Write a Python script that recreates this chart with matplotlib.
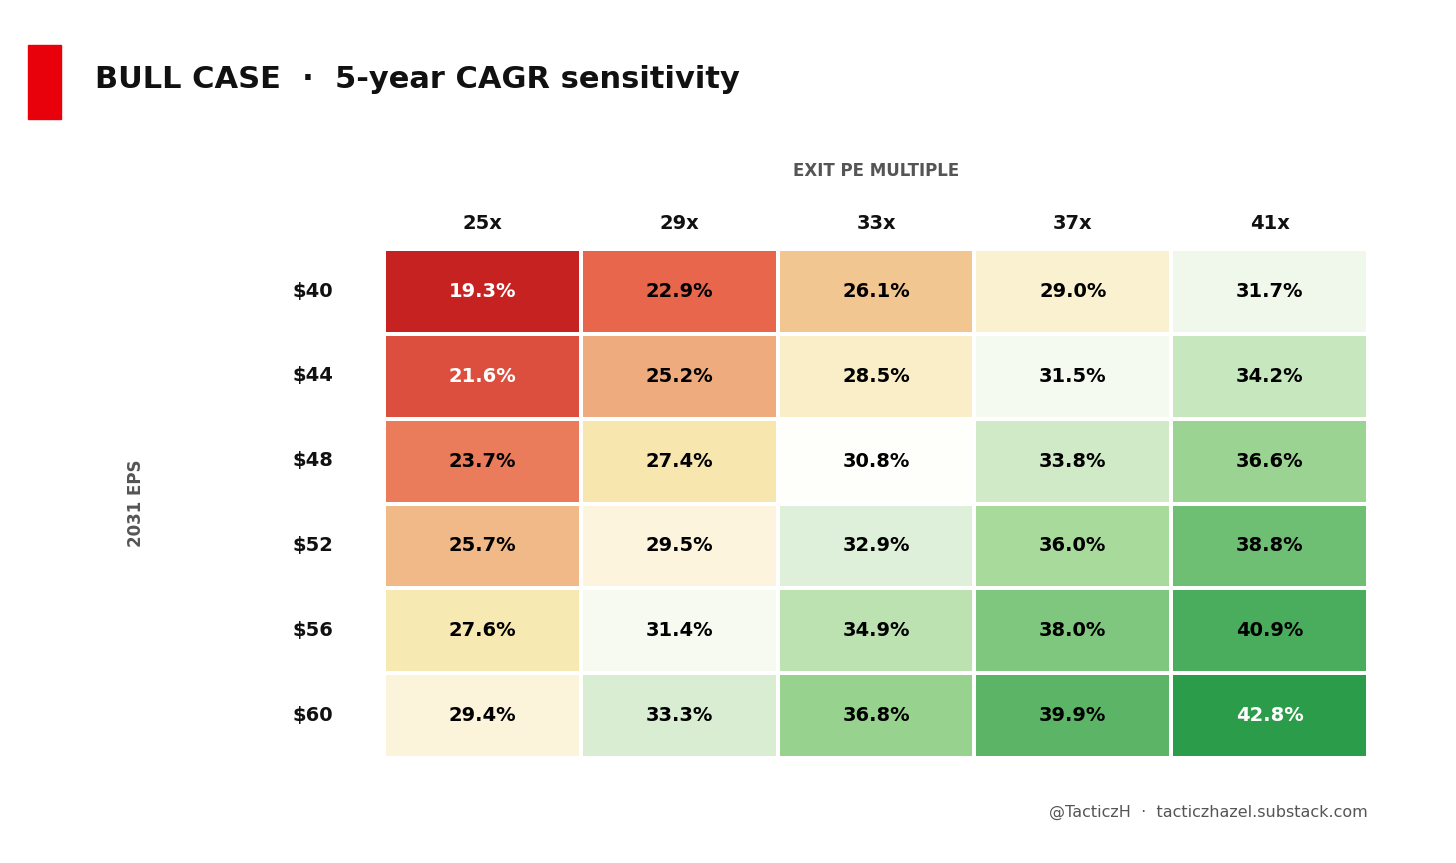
import numpy as np
import matplotlib
matplotlib.use("Agg")
import matplotlib.pyplot as plt
from matplotlib.colors import LinearSegmentedColormap, Normalize
from matplotlib.patches import Rectangle

pe_labels = ["25x", "29x", "33x", "37x", "41x"]
eps_labels = ["$40", "$44", "$48", "$52", "$56", "$60"]
cagr = np.array([
    [19.3, 22.9, 26.1, 29.0, 31.7],
    [21.6, 25.2, 28.5, 31.5, 34.2],
    [23.7, 27.4, 30.8, 33.8, 36.6],
    [25.7, 29.5, 32.9, 36.0, 38.8],
    [27.6, 31.4, 34.9, 38.0, 40.9],
    [29.4, 33.3, 36.8, 39.9, 42.8],
])

# custom red -> cream -> green scale, stops
stops = [(19.3, "#c62222"), (22.9, "#e8664c"), (26.1, "#f1c690"),
         (27.5, "#f7e8b0"), (29.2, "#fbf2d6"), (30.8, "#fefefa"),
         (32.9, "#dff0da"), (36.0, "#a8da9b"), (38.8, "#6fbe73"),
         (42.8, "#2b9c4a")]
lo, hi = stops[0][0], stops[-1][0]
cmap = LinearSegmentedColormap.from_list(
    "bull", [((v - lo) / (hi - lo), c) for v, c in stops])

fig = plt.figure(figsize=(14.56, 8.63), dpi=100)
ax = fig.add_axes([384/1456, 1-758/863, 984/1456, 509/863])
ax.pcolormesh(cagr, cmap=cmap, norm=Normalize(lo, hi),
              edgecolors="white", linewidth=1.5)
ax.set_xlim(0, 5)
ax.set_ylim(6, 0)
for s in ax.spines.values():
    s.set_visible(False)
ax.set_xticks([])
ax.set_yticks([])

for i in range(cagr.shape[0]):
    for j in range(cagr.shape[1]):
        v = cagr[i, j]
        col = "white" if (v < 22 or v > 42) else "black"
        ax.text(j + 0.5, i + 0.5, f"{v:.1f}%", ha="center", va="center",
                fontsize=14, fontweight="bold", color=col)

for j, lab in enumerate(pe_labels):
    ax.text(j + 0.5, -0.3, lab, ha="center", va="center",
            fontsize=14, fontweight="bold", color="#111111")
for i, lab in enumerate(eps_labels):
    fig.text(313/1456, 1 - (291 + i*84.8)/863, lab, ha="center", va="center",
             fontsize=14, fontweight="bold", color="#111111")

fig.text(876/1456, 1-171/863, "EXIT PE MULTIPLE", ha="center", va="center",
         fontsize=12, fontweight="bold", color="#555555")
fig.text(136/1456, 1-503/863, "2031 EPS", ha="center", va="center",
         rotation=90, fontsize=12, fontweight="bold", color="#555555")

fig.patches.append(Rectangle((28/1456, 1-119/863), 33/1456, 74/863,
                             transform=fig.transFigure, color="#e8000b"))
fig.text(95/1456, 1-80/863, "BULL CASE  ·  5-year CAGR sensitivity",
         ha="left", va="center", fontsize=22, fontweight="bold", color="#111111")
fig.text(1368/1456, 1-812/863, "@TacticzH  ·  tacticzhazel.substack.com",
         ha="right", va="center", fontsize=11.5, color="#555555")

fig.savefig("out.png", dpi=100)
